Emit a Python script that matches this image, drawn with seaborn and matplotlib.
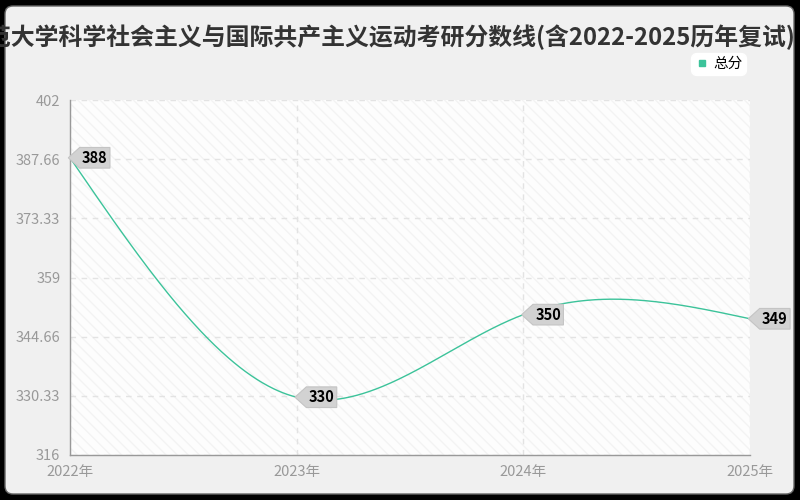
import numpy as np
import pandas as pd
import matplotlib.pyplot as plt
import seaborn as sns
from matplotlib.patches import FancyBboxPatch, Rectangle
from matplotlib.path import Path
from matplotlib.lines import Line2D

years = ['2022年', '2023年', '2024年', '2025年']
scores = [388, 330, 350, 349]
y_ticks = [316, 330.33, 344.66, 359, 373.33, 387.66, 402]
y_tick_labels = ['316', '330.33', '344.66', '359', '373.33', '387.66', '402']
title = '师范大学科学社会主义与国际共产主义运动考研分数线(含2022-2025历年复试)'
series_name = '总分'

sns.set_style('white')
plt.rcParams['font.family'] = ['Noto Sans CJK SC', 'DejaVu Sans']

line_color = '#3cc39a'


def natural_spline(x, y, n=200):
    # 自然三次样条, 让折线平滑
    x = np.asarray(x, float)
    y = np.asarray(y, float)
    k = len(x)
    h = np.diff(x)
    A = np.zeros((k, k))
    b = np.zeros(k)
    A[0, 0] = A[-1, -1] = 1
    for i in range(1, k - 1):
        A[i, i - 1] = h[i - 1]
        A[i, i] = 2 * (h[i - 1] + h[i])
        A[i, i + 1] = h[i]
        b[i] = 6 * ((y[i + 1] - y[i]) / h[i] - (y[i] - y[i - 1]) / h[i - 1])
    M = np.linalg.solve(A, b)
    xs, ys = [], []
    for i in range(k - 1):
        t = np.linspace(0, 1, n)
        xx = x[i] + t * h[i]
        a = 1 - t
        yy = (a * y[i] + t * y[i + 1]
              + ((a ** 3 - a) * M[i] + (t ** 3 - t) * M[i + 1]) * h[i] ** 2 / 6)
        xs.append(xx)
        ys.append(yy)
    return np.concatenate(xs), np.concatenate(ys)


def tag_box(x0, y0, width, height, mutation_size):
    pad = 0.16 * mutation_size
    x0, y0 = x0 - pad, y0 - pad
    w, h = width + 2 * pad, height + 2 * pad
    tip = h * 0.55
    verts = [(x0 - tip, y0 + h / 2), (x0, y0 + h), (x0 + w, y0 + h),
             (x0 + w, y0), (x0, y0), (x0 - tip, y0 + h / 2)]
    codes = [Path.MOVETO] + [Path.LINETO] * 4 + [Path.CLOSEPOLY]
    return Path(verts, codes)


fig = plt.figure(figsize=(8, 5), dpi=100, facecolor='black')
bg = FancyBboxPatch((0.05, 0.06), 7.89, 4.88, boxstyle='round,pad=0,rounding_size=0.08',
                    transform=fig.dpi_scale_trans, facecolor='#f0f0f0', edgecolor='#666666',
                    lw=1, zorder=-10)
fig.patches.append(bg)

ax = fig.add_axes([0.0875, 0.09, 0.85, 0.71])
ax.set_zorder(1)
ax.set_facecolor('#fdfdfd')
ax.add_patch(Rectangle((0, 0), 1, 1, transform=ax.transAxes, facecolor='#fdfdfd',
                       edgecolor='#f3f3f3', hatch='\\\\\\', lw=0, zorder=0))

x_idx = np.arange(len(years))
sx, sy = natural_spline(x_idx, scores)
df = pd.DataFrame({'x': sx, 'y': sy})
sns.lineplot(data=df, x='x', y='y', color=line_color, lw=1, ax=ax, zorder=3)

ax.set_xlim(0, len(years) - 1)
ax.set_ylim(y_ticks[0], y_ticks[-1])
ax.set_xticks(x_idx)
ax.set_xticklabels(years)
ax.set_yticks(y_ticks)
ax.set_yticklabels(y_tick_labels)
ax.set_xlabel('')
ax.set_ylabel('')
ax.grid(True, ls=(0, (4, 4)), color='#e3e3e3', lw=1)
ax.set_axisbelow(True)
for s in ['top', 'right']:
    ax.spines[s].set_visible(False)
for s in ['left', 'bottom']:
    ax.spines[s].set_color('#999999')
    ax.spines[s].set_linewidth(1)
ax.tick_params(axis='both', colors='#999999', labelcolor='#999999', labelsize=10.5,
               length=5, width=1, direction='out', pad=2)

for i, v in enumerate(scores):
    ax.annotate(str(v), xy=(i, v), xytext=(12, 0), textcoords='offset pixels',
                ha='left', va='center', fontsize=10.5, fontweight='bold', color='black',
                annotation_clip=False, zorder=5,
                bbox=dict(boxstyle=tag_box, fc='#d2d2d2', ec='#c4c4c4', lw=0.8))

fig.text(0.994, 0.926, title, ha='right', va='center', fontsize=17.2,
         fontweight='bold', color='#333333')

handle = Line2D([], [], marker='s', ls='', color=line_color, markersize=5)
leg = fig.legend([handle], [series_name], loc='upper right', bbox_to_anchor=(0.942, 0.908),
                 frameon=True, facecolor='white', edgecolor='white', fancybox=True,
                 fontsize=10.5, handletextpad=0.3, borderpad=0.25, handlelength=1.0,
                 framealpha=1, labelcolor='black')
leg.get_frame().set_boxstyle('round,pad=0,rounding_size=0.4')
leg.set_zorder(5)

fig.savefig('out.png', dpi=100, facecolor=fig.get_facecolor())
